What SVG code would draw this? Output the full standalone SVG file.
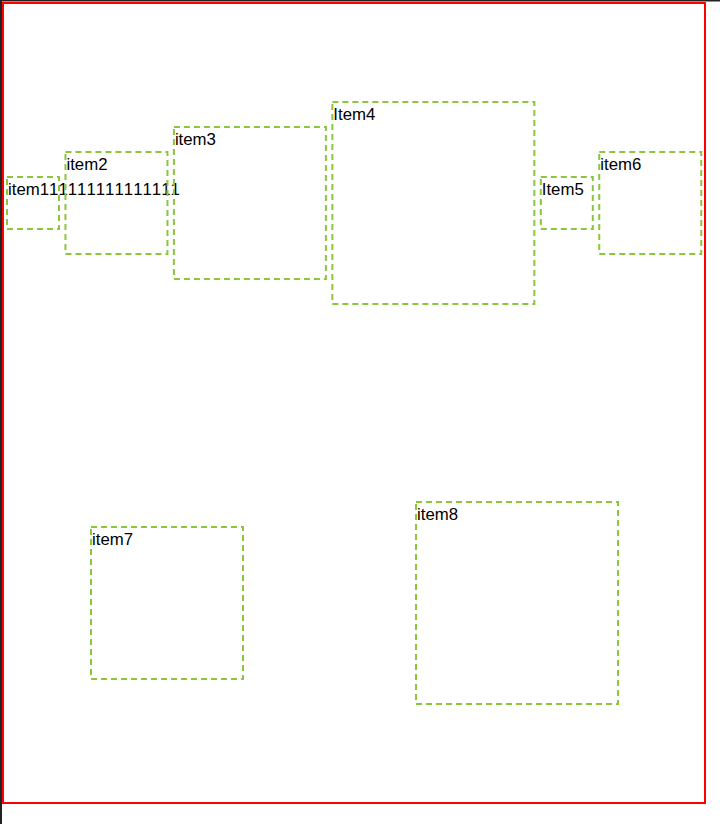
<svg xmlns="http://www.w3.org/2000/svg" width="720" height="824" viewBox="0 0 720 824">
<style>
.box{fill:none;stroke:#8cc63a;stroke-width:2;stroke-dasharray:6 4}
.lbl{font-family:"Liberation Sans",Arial,Helvetica,sans-serif;font-size:16.8px;fill:#000}
</style>
<rect x="0" y="0" width="720" height="824" fill="#fff"/>
<rect x="0" y="0" width="720" height="1.5" fill="#222"/>
<rect x="0" y="0" width="2" height="824" fill="#222"/>
<g id="container">
<rect x="3" y="3" width="702" height="800" fill="none" stroke="#f00" stroke-width="2"/>
</g>
<g id="item1">
<rect class="box" x="7" y="177" width="52" height="52"/>
<text class="lbl" x="8" y="195">item<tspan x="39.74">1</tspan><tspan x="49.08">1</tspan><tspan x="58.42">1</tspan><tspan x="67.76">1</tspan><tspan x="77.10">1</tspan><tspan x="86.44">1</tspan><tspan x="95.78">1</tspan><tspan x="105.12">1</tspan><tspan x="114.46">1</tspan><tspan x="123.80">1</tspan><tspan x="133.14">1</tspan><tspan x="142.48">1</tspan><tspan x="151.82">1</tspan><tspan x="161.16">1</tspan><tspan x="170.50">1</tspan></text>
</g>
<g id="item2">
<rect class="box" x="65.45" y="152" width="102" height="102"/>
<text class="lbl" x="66.45" y="170">item2</text>
</g>
<g id="item3">
<rect class="box" x="173.9" y="127" width="152" height="152"/>
<text class="lbl" x="174.9" y="145">item3</text>
</g>
<g id="item4">
<rect class="box" x="332.35" y="102" width="202" height="202"/>
<text class="lbl" x="333.35" y="120">Item4</text>
</g>
<g id="item5">
<rect class="box" x="540.8" y="177" width="52" height="52"/>
<text class="lbl" x="541.8" y="195">Item5</text>
</g>
<g id="item6">
<rect class="box" x="599.25" y="152" width="102" height="102"/>
<text class="lbl" x="600.25" y="170">item6</text>
</g>
<g id="item7">
<rect class="box" x="91" y="527" width="152" height="152"/>
<text class="lbl" x="92" y="545">item7</text>
</g>
<g id="item8">
<rect class="box" x="416" y="502" width="202" height="202"/>
<text class="lbl" x="417" y="520">item8</text>
</g>
</svg>
